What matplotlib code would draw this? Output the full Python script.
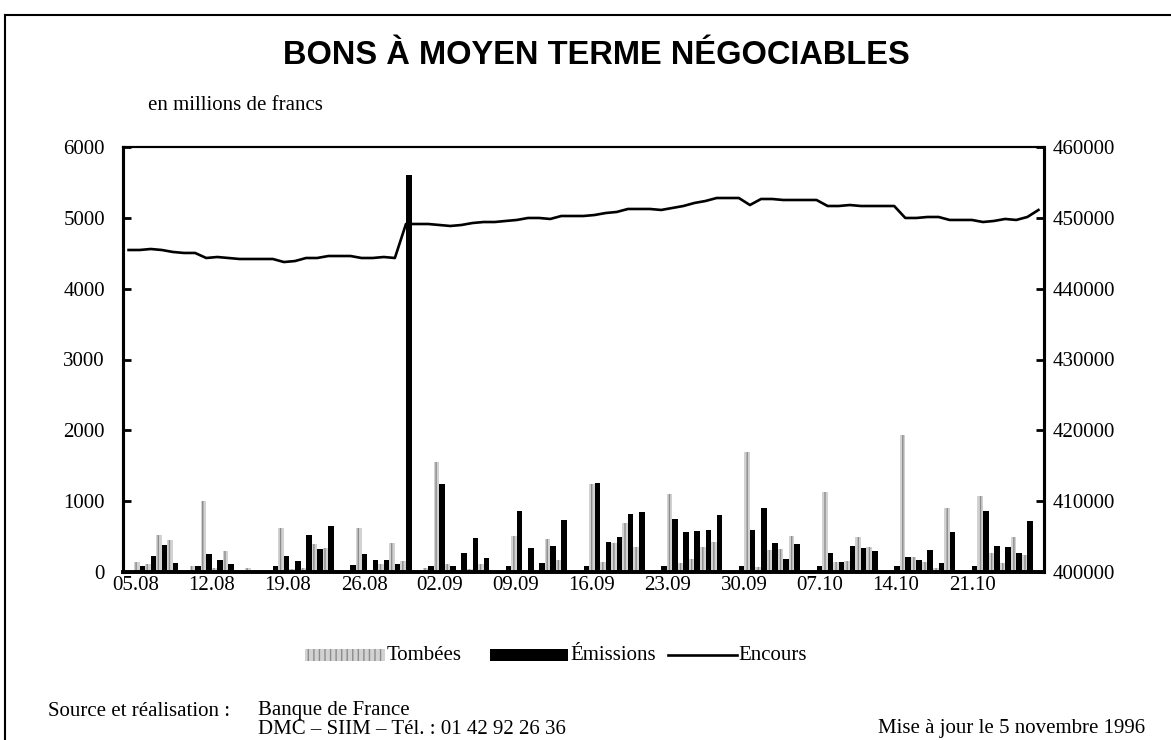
import numpy as np
import pandas as pd
import matplotlib.pyplot as plt
from matplotlib.patches import Rectangle
from matplotlib.lines import Line2D

# calendar days shown on the axis (05.08.1996 -> 26.10.1996)
days = pd.date_range('1996-08-05', periods=83, freq='D')

# Tombées (millions de francs), one value per calendar day
tombees = [0, 140, 110, 520, 450, 0, 80,
           1000, 50, 300, 0, 50, 0, 0,
           620, 40, 50, 400, 340, 0, 20,
           620, 30, 110, 410, 150, 0, 60,
           1550, 120, 25, 40, 120, 0, 0,
           510, 15, 20, 465, 170, 0, 0,
           1240, 145, 410, 690, 355, 0, 0,
           1100, 125, 180, 355, 420, 0, 0,
           1690, 70, 310, 325, 510, 0, 0,
           1135, 145, 160, 500, 355, 0, 0,
           1935, 215, 145, 55, 910, 25, 0,
           1070, 270, 130, 500, 240, 0]

# Émissions
emissions = [0, 80, 220, 380, 125, 0, 85,
             250, 170, 115, 0, 0, 0, 85,
             220, 150, 520, 330, 650, 0, 100,
             260, 170, 170, 110, 5600, 0, 85,
             1240, 80, 270, 480, 200, 0, 85,
             860, 340, 130, 370, 730, 0, 85,
             1260, 420, 500, 820, 850, 0, 85,
             750, 565, 580, 595, 800, 0, 85,
             590, 900, 410, 180, 395, 0, 85,
             270, 145, 365, 345, 290, 0, 85,
             215, 170, 310, 130, 565, 0, 85,
             860, 370, 360, 270, 720, 0]

# Encours (right axis)
encours = [445460, 445460, 445600, 445460, 445180, 445040, 445040,
           444330, 444470, 444330, 444190, 444190, 444190, 444190,
           443760, 443900, 444330, 444330, 444610, 444610, 444610,
           444330, 444330, 444470, 444330, 449130, 449130, 449130,
           448990, 448850, 448990, 449270, 449410, 449410, 449560,
           449700, 449980, 449980, 449840, 450260, 450260, 450260,
           450400, 450680, 450830, 451250, 451250, 451250, 451110,
           451390, 451670, 452100, 452380, 452800, 452800, 452800,
           451810, 452660, 452660, 452520, 452520, 452520, 452520,
           451670, 451670, 451810, 451670, 451670, 451670, 451670,
           449980, 449980, 450120, 450120, 449700, 449700, 449700,
           449410, 449560, 449840, 449700, 450120, 451110]

tick_labels = ['05.08', '12.08', '19.08', '26.08', '02.09', '09.09',
               '16.09', '23.09', '30.09', '07.10', '14.10', '21.10']

W, H = 1171, 740
serif = 'Liberation Serif'
gray_face, gray_hatch = '#d2d2d2', '#8c8c8c'
plt.rcParams['hatch.linewidth'] = 1.0

fig = plt.figure(figsize=(W / 100, H / 100), dpi=100)


def fx(x):
    return x / W


def fy(y):
    return 1 - y / H


ax = fig.add_axes([fx(123), fy(572), fx(1044) - fx(123), fy(147) - fy(572)])
pos = np.arange(len(days))

ax.bar(pos, tombees, width=0.5, align='edge', color=gray_face,
       edgecolor=gray_hatch, hatch='|||', linewidth=0, zorder=2)
ax.bar(pos + 0.5, emissions, width=0.5, align='edge', color='black',
       linewidth=0, zorder=2)
ax.set_xlim(0, len(days))
ax.set_ylim(0, 6000)
ax.set_yticks(range(0, 6001, 1000))

# date labels as placed in the original
ax.set_xticks(1.17 + 6.85 * np.arange(len(tick_labels)))
ax.set_xticklabels(tick_labels)
ax.tick_params(axis='x', length=0, pad=3, labelsize=15)
ax.tick_params(axis='y', direction='in', length=6, width=2, pad=13, labelsize=15)

ax2 = ax.twinx()
ax2.plot(pos + 0.5, encours, color='black', linewidth=1.9, zorder=3)
ax2.set_ylim(400000, 460000)
ax2.set_yticks(range(400000, 460001, 10000))
ax2.tick_params(axis='y', direction='in', length=6, width=2, pad=6, labelsize=15)

for a in (ax, ax2):
    for lab in a.get_xticklabels() + a.get_yticklabels():
        lab.set_fontfamily(serif)
    a.spines['left'].set_linewidth(2.2)
    a.spines['right'].set_linewidth(2.2)
    a.spines['bottom'].set_linewidth(2.6)
    a.spines['top'].set_linewidth(1.5)

# title and unit
fig.text(fx(596), fy(55), 'BONS À MOYEN TERME NÉGOCIABLES', ha='center', va='center',
         fontsize=23.5, fontweight='bold', family='Liberation Sans')
fig.text(fx(148), fy(105), 'en millions de francs', ha='left', va='center',
         fontsize=15, family=serif)

# legend drawn by hand to keep the original spacing
fig.add_artist(Rectangle((fx(305), fy(661)), fx(80), fy(649) - fy(661),
                         facecolor=gray_face, edgecolor=gray_hatch, hatch='|||',
                         linewidth=0, transform=fig.transFigure))
fig.text(fx(387), fy(655), 'Tombées', ha='left', va='center', fontsize=15, family=serif)
fig.add_artist(Rectangle((fx(490), fy(661)), fx(78), fy(649) - fy(661),
                         facecolor='black', linewidth=0, transform=fig.transFigure))
fig.text(fx(570), fy(655), 'Émissions', ha='left', va='center', fontsize=15, family=serif)
fig.add_artist(Line2D([fx(668), fx(737)], [fy(655), fy(655)], color='black', linewidth=1.9))
fig.text(fx(738), fy(655), 'Encours', ha='left', va='center', fontsize=15, family=serif)

# footer
fig.text(fx(48), fy(711), 'Source et réalisation :', ha='left', va='center',
         fontsize=15, family=serif)
fig.text(fx(258), fy(711), 'Banque de France', ha='left', va='center',
         fontsize=15, family=serif)
fig.text(fx(258), fy(729), 'DMC – SIIM – Tél. : 01 42 92 26 36', ha='left', va='center',
         fontsize=15, family=serif)
fig.text(fx(1145), fy(729), 'Mise à jour le 5 novembre 1996', ha='right', va='center',
         fontsize=15, family=serif)

# outer frame of the page
fig.add_artist(Line2D([fx(5), fx(1171)], [fy(15), fy(15)], color='black', linewidth=1.5))
fig.add_artist(Line2D([fx(5), fx(5)], [fy(15), 0], color='black', linewidth=1.5))

fig.savefig('out.png', dpi=100)
